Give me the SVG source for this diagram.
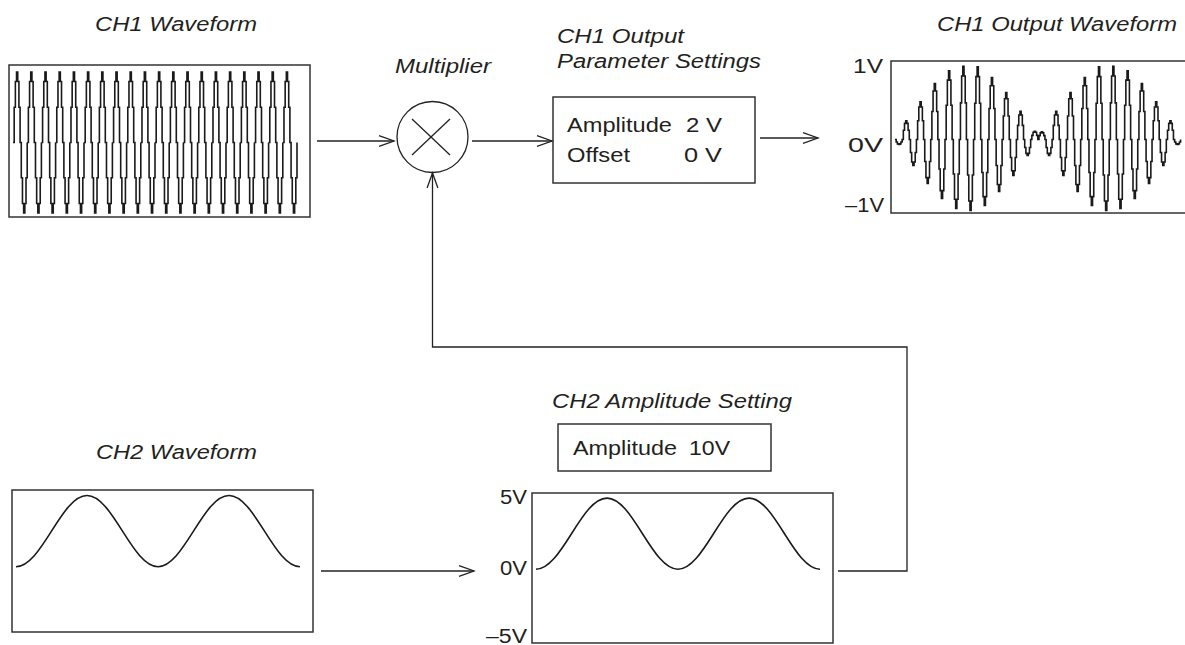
<svg xmlns="http://www.w3.org/2000/svg" xmlns:xlink="http://www.w3.org/1999/xlink" width="1185" height="645" viewBox="0 0 1185 645">
<style>
  .t { font-family: "Liberation Sans", Arial, Helvetica, sans-serif; font-size: 20px; fill: #231f20; }
  .ti { font-style: italic; }
  .box { fill: none; stroke: #333; stroke-width: 1.5; }
  .wave { fill: none; stroke: #1a1a1a; stroke-width: 1.6; stroke-linejoin: miter; }
  .conn { fill: none; stroke: #222; stroke-width: 1.3; }
</style>
<defs>
  <marker id="arr" markerUnits="userSpaceOnUse" markerWidth="18" markerHeight="14" viewBox="0 0 18 14" refX="16" refY="7" orient="auto">
    <path d="M1,1.6 L16,7 L1,12.4" fill="none" stroke="#222" stroke-width="1.3"/>
  </marker>
  <path id="carrier" d="M0,0 h1.1833 V-35.25 h1.1833 V-61.05 h1.1833 V-70.5 h1.1833 V-61.05 h1.1833 V-35.25 h1.1833 V0 h1.1833 V35.25 h1.1833 V61.05 h1.1833 V70.5 h1.1833 V61.05 h1.1833 V35.25 h1.1833 V0"/>
  <path id="rcos" d="M0,0 c12.85,0 23.92,-17.36 35.5,-35.6 c11.58,-18.24 22.65,-35.6 35.5,-35.6 c12.85,0 23.92,17.36 35.5,35.6 c11.58,18.24 22.65,35.6 35.5,35.6 c12.85,0 23.92,-17.36 35.5,-35.6 c11.58,-18.24 22.65,-35.6 35.5,-35.6 c12.85,0 23.92,17.36 35.5,35.6 c11.58,18.24 22.65,35.6 35.5,35.6"/>
</defs>

<g id="ch1-waveform">
  <text class="t ti" x="95" y="31" textLength="162" lengthAdjust="spacingAndGlyphs">CH1 Waveform</text>
  <rect class="box" x="9" y="65" width="301" height="152"/>
  <g class="wave">
    <use href="#carrier" x="13" y="142.5"/>
    <use href="#carrier" x="27.2" y="142.5"/>
    <use href="#carrier" x="41.4" y="142.5"/>
    <use href="#carrier" x="55.6" y="142.5"/>
    <use href="#carrier" x="69.8" y="142.5"/>
    <use href="#carrier" x="84" y="142.5"/>
    <use href="#carrier" x="98.2" y="142.5"/>
    <use href="#carrier" x="112.4" y="142.5"/>
    <use href="#carrier" x="126.6" y="142.5"/>
    <use href="#carrier" x="140.8" y="142.5"/>
    <use href="#carrier" x="155" y="142.5"/>
    <use href="#carrier" x="169.2" y="142.5"/>
    <use href="#carrier" x="183.4" y="142.5"/>
    <use href="#carrier" x="197.6" y="142.5"/>
    <use href="#carrier" x="211.8" y="142.5"/>
    <use href="#carrier" x="226" y="142.5"/>
    <use href="#carrier" x="240.2" y="142.5"/>
    <use href="#carrier" x="254.4" y="142.5"/>
    <use href="#carrier" x="268.6" y="142.5"/>
    <use href="#carrier" x="282.8" y="142.5"/>
  </g>
</g>

<g id="multiplier">
  <text class="t ti" x="395" y="73" textLength="96" lengthAdjust="spacingAndGlyphs">Multiplier</text>
  <circle cx="432.5" cy="137" r="35.5" fill="none" stroke="#222" stroke-width="1.3"/>
  <line x1="412" y1="119" x2="450" y2="155" stroke="#222" stroke-width="1.3"/>
  <line x1="450" y1="119" x2="412" y2="155" stroke="#222" stroke-width="1.3"/>
</g>

<g id="ch1-output-params">
  <text class="t ti" x="557" y="43" textLength="127" lengthAdjust="spacingAndGlyphs">CH1 Output</text>
  <text class="t ti" x="557" y="68" textLength="204" lengthAdjust="spacingAndGlyphs">Parameter Settings</text>
  <rect class="box" x="553" y="97" width="202" height="86"/>
  <text class="t" x="567" y="132" textLength="105" lengthAdjust="spacingAndGlyphs">Amplitude</text>
  <text class="t" x="686" y="132" textLength="36" lengthAdjust="spacingAndGlyphs">2 V</text>
  <text class="t" x="567" y="162" textLength="63" lengthAdjust="spacingAndGlyphs">Offset</text>
  <text class="t" x="684" y="162" textLength="38" lengthAdjust="spacingAndGlyphs">0 V</text>
</g>

<g id="ch1-output-waveform">
  <text class="t ti" x="937" y="31" textLength="240" lengthAdjust="spacingAndGlyphs">CH1 Output Waveform</text>
  <rect class="box" x="891" y="61" width="302" height="152"/>
  <text class="t" x="853" y="73" textLength="30" lengthAdjust="spacingAndGlyphs">1V</text>
  <text class="t" x="848" y="152" textLength="35" lengthAdjust="spacingAndGlyphs">0V</text>
  <text class="t" x="845" y="212" textLength="39" lengthAdjust="spacingAndGlyphs">–1V</text>
  <path class="wave" d="M895,139.5
    h1.19v2.5h1.19v1.83h1.19v0.67h1.19v-0.67h1.19v-1.83h1.19v-2.5
    h1.19v-9.3h1.19v-6.81h1.19v-2.49h1.19v2.49h1.19v6.81h1.19v9.3
    h1.19v13h1.19v9.52h1.19v3.48h1.19v-3.48h1.19v-9.52h1.19v-13
    h1.19v-18.8h1.19v-13.76h1.19v-5.04h1.19v5.04h1.19v13.76h1.19v18.8
    h1.19v22h1.19v16.1h1.19v5.9h1.19v-5.9h1.19v-16.1h1.19v-22
    h1.19v-28h1.19v-20.5h1.19v-7.5h1.19v7.5h1.19v20.5h1.19v28
    h1.19v29.5h1.19v21.59h1.19v7.91h1.19v-7.91h1.19v-21.59h1.19v-29.5
    h1.19v-34.3h1.19v-25.11h1.19v-9.19h1.19v9.19h1.19v25.11h1.19v34.3
    h1.19v34.5h1.19v25.25h1.19v9.25h1.19v-9.25h1.19v-25.25h1.19v-34.5
    h1.19v-36.65h1.19v-26.83h1.19v-9.82h1.19v9.82h1.19v26.83h1.19v36.65
    h1.19v35.5h1.19v25.99h1.19v9.51h1.19v-9.51h1.19v-25.99h1.19v-35.5
    h1.19v-36.3h1.19v-26.57h1.19v-9.73h1.19v9.73h1.19v26.57h1.19v36.3
    h1.19v33h1.19v24.16h1.19v8.84h1.19v-8.84h1.19v-24.16h1.19v-33
    h1.19v-31h1.19v-22.69h1.19v-8.31h1.19v8.31h1.19v22.69h1.19v31
    h1.19v26h1.19v19.03h1.19v6.97h1.19v-6.97h1.19v-19.03h1.19v-26
    h1.19v-23.5h1.19v-17.2h1.19v-6.3h1.19v6.3h1.19v17.2h1.19v23.5
    h1.19v18h1.19v13.18h1.19v4.82h1.19v-4.82h1.19v-13.18h1.19v-18
    h1.19v-14.15h1.19v-10.36h1.19v-3.79h1.19v3.79h1.19v10.36h1.19v14.15
    h1.19v8h1.19v5.86h1.19v2.14h1.19v-2.14h1.19v-5.86h1.19v-8
    h1.19v-4.15h1.19v-3.04h1.19v-1.11h1.19v1.11h1.19v3.04h1.19v4.15
    h1.19v-3.85h1.19v-2.82h1.19v-1.03h1.19v1.03h1.19v2.82h1.19v3.85
    h1.19v8h1.19v5.86h1.19v2.14h1.19v-2.14h1.19v-5.86h1.19v-8
    h1.19v-14.15h1.19v-10.36h1.19v-3.79h1.19v3.79h1.19v10.36h1.19v14.15
    h1.19v18h1.19v13.18h1.19v4.82h1.19v-4.82h1.19v-13.18h1.19v-18
    h1.19v-23.5h1.19v-17.2h1.19v-6.3h1.19v6.3h1.19v17.2h1.19v23.5
    h1.19v26h1.19v19.03h1.19v6.97h1.19v-6.97h1.19v-19.03h1.19v-26
    h1.19v-31h1.19v-22.69h1.19v-8.31h1.19v8.31h1.19v22.69h1.19v31
    h1.19v33h1.19v24.16h1.19v8.84h1.19v-8.84h1.19v-24.16h1.19v-33
    h1.19v-36.3h1.19v-26.57h1.19v-9.73h1.19v9.73h1.19v26.57h1.19v36.3
    h1.19v35.5h1.19v25.99h1.19v9.51h1.19v-9.51h1.19v-25.99h1.19v-35.5
    h1.19v-36.65h1.19v-26.83h1.19v-9.82h1.19v9.82h1.19v26.83h1.19v36.65
    h1.19v34.5h1.19v25.25h1.19v9.25h1.19v-9.25h1.19v-25.25h1.19v-34.5
    h1.19v-34.3h1.19v-25.11h1.19v-9.19h1.19v9.19h1.19v25.11h1.19v34.3
    h1.19v29.5h1.19v21.59h1.19v7.91h1.19v-7.91h1.19v-21.59h1.19v-29.5
    h1.19v-28h1.19v-20.5h1.19v-7.5h1.19v7.5h1.19v20.5h1.19v28
    h1.19v22h1.19v16.1h1.19v5.9h1.19v-5.9h1.19v-16.1h1.19v-22
    h1.19v-18.8h1.19v-13.76h1.19v-5.04h1.19v5.04h1.19v13.76h1.19v18.8
    h1.19v13h1.19v9.52h1.19v3.48h1.19v-3.48h1.19v-9.52h1.19v-13
    h1.19v-9.3h1.19v-6.81h1.19v-2.49h1.19v2.49h1.19v6.81h1.19v9.3
    h1.19v2.5h1.19v1.83h1.19v0.67h1.19v-0.67h1.19v-1.83h1.19v-2.5"/>
</g>

<g id="ch2-waveform">
  <text class="t ti" x="96" y="459" textLength="161" lengthAdjust="spacingAndGlyphs">CH2 Waveform</text>
  <rect class="box" x="12" y="490" width="301" height="142"/>
  <use class="wave" href="#rcos" x="16" y="566.7"/>
</g>

<g id="ch2-amplitude-setting">
  <text class="t ti" x="552" y="408" textLength="240" lengthAdjust="spacingAndGlyphs">CH2 Amplitude Setting</text>
  <rect class="box" x="558" y="424" width="213" height="47"/>
  <text class="t" x="573" y="455" textLength="104" lengthAdjust="spacingAndGlyphs">Amplitude</text>
  <text class="t" x="689" y="455" textLength="41" lengthAdjust="spacingAndGlyphs">10V</text>
</g>

<g id="ch2-scaled-waveform">
  <rect class="box" x="532" y="493" width="301" height="150"/>
  <text class="t" x="500" y="504" textLength="27" lengthAdjust="spacingAndGlyphs">5V</text>
  <text class="t" x="500" y="575" textLength="27" lengthAdjust="spacingAndGlyphs">0V</text>
  <text class="t" x="486" y="643" textLength="41" lengthAdjust="spacingAndGlyphs">–5V</text>
  <use class="wave" href="#rcos" x="536" y="569.3"/>
</g>

<g id="connectors" class="conn">
  <line x1="317" y1="141" x2="394" y2="141" marker-end="url(#arr)"/>
  <line x1="472" y1="141" x2="552" y2="141" marker-end="url(#arr)"/>
  <line x1="760" y1="138" x2="818" y2="138" marker-end="url(#arr)"/>
  <line x1="321" y1="571" x2="474" y2="571" marker-end="url(#arr)"/>
  <polyline points="838,571 907,571 907,347 432.5,347 432.5,173" marker-end="url(#arr)"/>
</g>
</svg>
